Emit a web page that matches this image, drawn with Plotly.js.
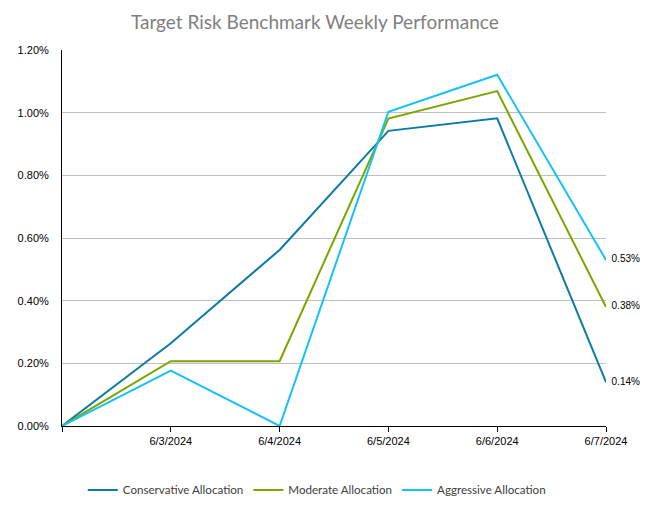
<!DOCTYPE html>
<html>
<head>
<meta charset="utf-8">
<script src="https://cdn.plot.ly/plotly-3.0.1.min.js"></script>
<style>html,body{margin:0;padding:0;background:#fff;}#chart{width:660px;height:513px;}</style>
</head>
<body>
<div id="chart"></div>
<script>
var categories = ["", "6/3/2024", "6/4/2024", "6/5/2024", "6/6/2024", "6/7/2024"];
var conservative = [0.0, 0.264, 0.562, 0.942, 0.982, 0.14];
var moderate = [0.0, 0.207, 0.207, 0.981, 1.069, 0.38];
var aggressive = [0.0, 0.177, 0.0, 1.003, 1.121, 0.53];
var seriesNames = ["Conservative Allocation", "Moderate Allocation", "Aggressive Allocation"];
var colors = ["#0E7BA6", "#7BA600", "#13C3F5"];
var yTicks = [0, 0.2, 0.4, 0.6, 0.8, 1.0, 1.2];

var idx = categories.map(function(_, i){ return i; });
function lastLabel(arr){
  return arr.map(function(v, i){ return i === arr.length - 1 ? "  " + v.toFixed(2) + "%" : ""; });
}
var data = [conservative, moderate, aggressive].map(function(vals, k){
  return {
    x: idx, y: vals, type: "scatter", mode: "lines+text",
    name: seriesNames[k],
    line: {color: colors[k], width: 2},
    text: lastLabel(vals), textposition: "middle right",
    textfont: {family: "Liberation Sans, Arial", size: 10, color: "#000"},
    cliponaxis: false, hoverinfo: "skip"
  };
});

var layout = {
  width: 660, height: 513,
  margin: {l: 62, r: 54, t: 50, b: 87},
  paper_bgcolor: "#fff", plot_bgcolor: "#fff",
  title: {text: "Target Risk Benchmark Weekly Performance", x: 0.477, xanchor: "center", y: 0.957, yanchor: "middle",
          font: {family: "Lato, Open Sans", size: 19, color: "#7f7f7f"}},
  xaxis: {
    range: [0, 5], tickmode: "array", tickvals: idx, ticktext: categories,
    showgrid: false, zeroline: false, showline: true, linecolor: "#000", linewidth: 1,
    ticks: "outside", ticklen: 5, tickcolor: "#000",
    tickfont: {family: "Liberation Sans, Arial", size: 11, color: "#000"}
  },
  yaxis: {
    range: [0, 1.2], tickmode: "array", tickvals: yTicks,
    ticktext: yTicks.map(function(v){ return v.toFixed(2) + "%"; }),
    showgrid: true, gridcolor: "#bfbfbf", gridwidth: 1,
    zeroline: false, showline: true, linecolor: "#000", linewidth: 1,
    ticks: "", ticklabelstandoff: 10,
    tickfont: {family: "Liberation Sans, Arial", size: 11, color: "#000"}
  },
  showlegend: true,
  legend: {orientation: "h", x: 0.48, xref: "container", xanchor: "center",
           y: 0.045, yref: "container", yanchor: "middle",
           font: {family: "Lato, Open Sans", size: 11.6, color: "#404040"},
           itemwidth: 30, tracegroupgap: 0}
};
Plotly.newPlot("chart", data, layout, {displayModeBar: false, staticPlot: true});
</script>
</body>
</html>
